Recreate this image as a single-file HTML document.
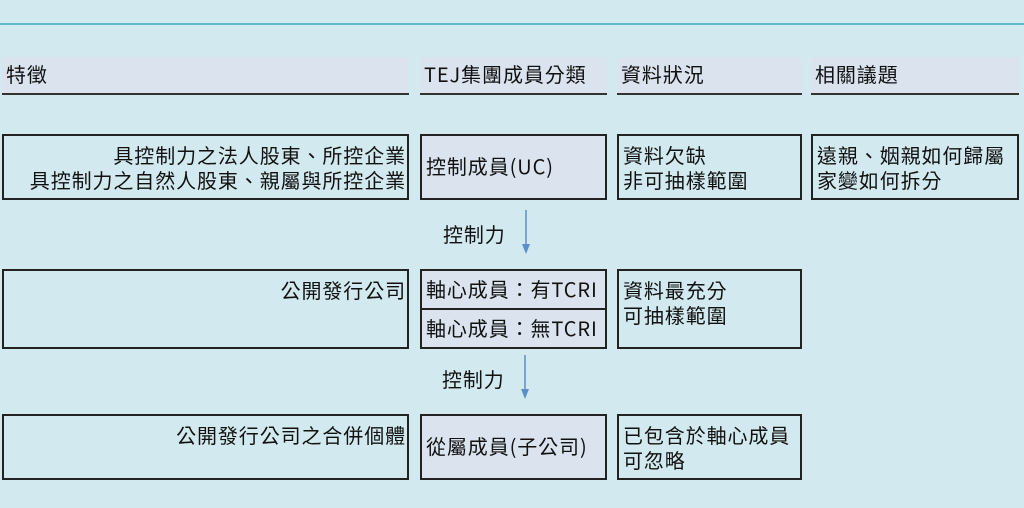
<!DOCTYPE html>
<html><head><meta charset="utf-8"><style>
body{margin:0;width:1024px;height:508px;background:#d3e9f0;position:relative;overflow:hidden;font-family:"Noto Sans CJK TC","Liberation Sans",sans-serif;color:#111;font-size:20px;letter-spacing:0.9px}
.b{position:absolute;box-sizing:border-box;line-height:25px;white-space:nowrap}
.h{background:#dbe4ee;border-bottom:2px solid #333;padding:4px 0 0 4px}
.x{border:2px solid #222;padding:8px 4px}
.f{background:#dbe4ee}
.r{text-align:right;padding-right:1px}
.l{position:absolute;font-size:20px;line-height:25px}
</style></head><body>
<div style="position:absolute;left:0;top:23px;width:1024px;height:2px;background:#5fb8cc"></div>
<div class="b h" style="left:2px;top:57px;width:407px;height:38px">特徵</div>
<div class="b h" style="left:420px;top:57px;width:187px;height:38px">TEJ集團成員分類</div>
<div class="b h" style="left:617px;top:57px;width:185px;height:38px">資料狀況</div>
<div class="b h" style="left:811px;top:57px;width:208px;height:38px">相關議題</div>

<div class="b x r" style="left:2px;top:134px;width:407px;height:66px;padding-top:6px">具控制力之法人股東、所控企業<br>具控制力之自然人股東、親屬與所控企業</div>
<div class="b x f" style="left:420px;top:134px;width:187px;height:66px;padding-top:17px">控制成員(UC)</div>
<div class="b x" style="left:617px;top:134px;width:185px;height:66px;padding-top:6px">資料欠缺<br>非可抽樣範圍</div>
<div class="b x" style="left:811px;top:134px;width:208px;height:66px;padding-top:6px">遠親、姻親如何歸屬<br>家變如何拆分</div>

<div class="l" style="left:443px;top:221px">控制力</div>
<svg style="position:absolute;left:518px;top:210px" width="16" height="46"><line x1="8" y1="0" x2="8" y2="36" stroke="#5b8fc7" stroke-width="1.5"/><path d="M4 34 L12 34 L8 44 Z" fill="#5b8fc7"/></svg>

<div class="b x r" style="left:2px;top:269px;width:407px;height:80px;padding-top:6px">公開發行公司</div>
<div class="b x f" style="left:420px;top:269px;width:187px;height:41px;padding-top:5px">軸心成員：有TCRI</div>
<div class="b x f" style="left:420px;top:308px;width:187px;height:41px;padding-top:5px">軸心成員：無TCRI</div>
<div class="b x" style="left:617px;top:269px;width:185px;height:80px;padding-top:6px">資料最充分<br>可抽樣範圍</div>

<div class="l" style="left:442px;top:366px">控制力</div>
<svg style="position:absolute;left:517px;top:355px" width="16" height="46"><line x1="8" y1="0" x2="8" y2="36" stroke="#5b8fc7" stroke-width="1.5"/><path d="M4 34 L12 34 L8 44 Z" fill="#5b8fc7"/></svg>

<div class="b x r" style="left:2px;top:414px;width:407px;height:66px;padding-top:6px">公開發行公司之合併個體</div>
<div class="b x f" style="left:420px;top:414px;width:187px;height:66px;padding-top:17px">從屬成員(子公司)</div>
<div class="b x" style="left:617px;top:414px;width:185px;height:66px;padding-top:6px">已包含於軸心成員<br>可忽略</div>
</body></html>
